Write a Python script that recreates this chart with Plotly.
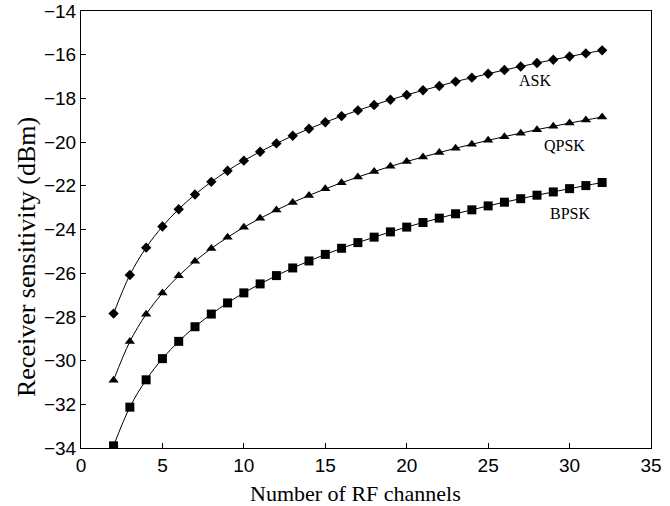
import plotly.graph_objects as go

channels = list(range(2, 33))
ask = [-27.85, -26.08, -24.83, -23.86, -23.07, -22.40, -21.82, -21.31, -20.85, -20.44,
       -20.06, -19.71, -19.39, -19.09, -18.81, -18.55, -18.30, -18.06, -17.84, -17.63,
       -17.43, -17.23, -17.05, -16.87, -16.70, -16.54, -16.38, -16.23, -16.08, -15.94, -15.80]
qpsk = [v - 3.05 for v in ask]
bpsk = [v - 6.05 for v in ask]

series = [("ASK", ask, "diamond", 8), ("QPSK", qpsk, "triangle-up", 9), ("BPSK", bpsk, "square", 9)]
labels = [("ASK", 27.9, -17.2), ("QPSK", 29.7, -20.15), ("BPSK", 30.0, -23.25)]
x_title = "Number of RF channels"
y_title = "Receiver sensitivity (dBm)"

fig = go.Figure()
for name, ys, sym, sz in series:
    fig.add_trace(go.Scatter(x=channels, y=ys, mode="lines+markers", name=name,
                             line=dict(color="black", width=1, shape="spline"),
                             marker=dict(symbol=sym, size=sz, color="black")))
for txt, x, y in labels:
    fig.add_annotation(x=x, y=y, text=txt, showarrow=False,
                       font=dict(family="Liberation Serif", size=16, color="black"))

fig.add_annotation(xref="paper", yref="paper", x=0.482, y=-0.103, text=x_title,
                   showarrow=False, xanchor="center", yanchor="middle",
                   font=dict(family="Liberation Serif", size=22, color="black"))
fig.add_annotation(xref="paper", yref="paper", x=-0.0965, y=0.437, text=y_title,
                   showarrow=False, xanchor="center", yanchor="middle", textangle=-90,
                   font=dict(family="Liberation Serif", size=26, color="black"))

axis_common = dict(showgrid=False, zeroline=False, showline=True, linecolor="black",
                   linewidth=1, mirror=True, ticks="inside", ticklen=5, tickcolor="black",
                   automargin=False,
                   tickfont=dict(family="Liberation Sans", size=19, color="black"))
fig.update_xaxes(range=[0, 35], dtick=5, **axis_common)
fig.update_yaxes(range=[-34, -14], dtick=2, **axis_common)
fig.update_layout(width=670, height=506, showlegend=False,
                  margin=dict(l=81, r=19, t=11, b=58),
                  plot_bgcolor="white", paper_bgcolor="white")
fig.write_html("out.html", config={"displayModeBar": False},
               post_script="document.body.style.margin='0';document.body.style.overflow='hidden';")
